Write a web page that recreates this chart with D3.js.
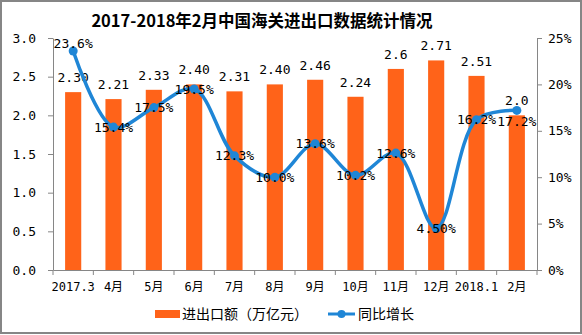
<!DOCTYPE html>
<html>
<head>
<meta charset="utf-8">
<script src="https://cdn.jsdelivr.net/npm/d3@7"></script>
<style>
  html, body { margin: 0; padding: 0; background: #fff; }
  svg text { font-family: "DejaVu Sans Mono", "Noto Sans CJK SC", monospace; fill: #000; }
  .title { font-family: "Noto Sans CJK SC", "DejaVu Sans", sans-serif; font-weight: bold; font-size: 16.5px; }
  .tick text { font-size: 13px; }
  .xaxis .tick text { font-size: 12px; }
  .legend-text { font-family: "Noto Sans CJK SC", sans-serif; font-size: 14px; }
  .val-label { font-size: 13px; }
</style>
</head>
<body>
<div id="chart"></div>
<script>
/* ============================================================
   Chart: 2017-2018 customs import/export
   ============================================================ */

const categories = ['2017.3', '4月', '5月', '6月', '7月', '8月', '9月', '10月', '11月', '12月', '2018.1', '2月'];
const tradeValues = [2.30, 2.21, 2.33, 2.40, 2.31, 2.40, 2.46, 2.24, 2.6, 2.71, 2.51, 2.0];
const tradeLabels = ['2.30', '2.21', '2.33', '2.40', '2.31', '2.40', '2.46', '2.24', '2.6', '2.71', '2.51', '2.0'];
const growthValues = [23.6, 15.4, 17.5, 19.5, 12.3, 10.0, 13.6, 10.2, 12.6, 4.50, 16.2, 17.2];
const growthLabels = ['23.6%', '15.4%', '17.5%', '19.5%', '12.3%', '10.0%', '13.6%', '10.2%', '12.6%', '4.50%', '16.2%', '17.2%'];
const leftTicks = [0, 0.5, 1.0, 1.5, 2.0, 2.5, 3.0];
const rightTicks = [0, 5, 10, 15, 20, 25];

const COLORS = { bar: '#FF6319', line: '#1F86D6', axis: '#868686' };

const W = 582, H = 335;
const plot = { left: 53, right: 537, top: 38, bottom: 270 };

const svg = d3.select('#chart').append('svg').attr('width', W).attr('height', H);

// frame
svg.append('rect').attr('x', 1).attr('y', 1).attr('width', W - 2).attr('height', H - 3)
    .attr('fill', '#fff').attr('stroke', COLORS.axis).attr('stroke-width', 2);

svg.append('text').attr('class', 'title').attr('x', 262).attr('y', 27)
    .attr('text-anchor', 'middle').text('2017-2018年2月中国海关进出口数据统计情况');

const x = d3.scaleBand().domain(categories).range([plot.left, plot.right]).padding(0);
const yL = d3.scaleLinear().domain([0, 3]).range([plot.bottom, plot.top]);
const yR = d3.scaleLinear().domain([0, 25]).range([plot.bottom, plot.top]);
const bw = x.bandwidth() * 0.4;
const cx = c => x(c) + x.bandwidth() / 2;

// Bars
svg.append('g').selectAll('rect').data(categories).join('rect')
    .attr('x', c => cx(c) - bw / 2)
    .attr('y', (c, i) => yL(tradeValues[i]))
    .attr('width', bw)
    .attr('height', (c, i) => plot.bottom - yL(tradeValues[i]))
    .attr('fill', COLORS.bar);

// Axes
function styleAxis(g) {
    g.select('.domain').attr('stroke', COLORS.axis);
    g.selectAll('.tick line').attr('stroke', COLORS.axis);
}

svg.append('g').attr('transform', `translate(${plot.left},0)`)
    .call(d3.axisLeft(yL).tickValues(leftTicks).tickFormat(d3.format('.1f')).tickSize(5).tickSizeOuter(0).tickPadding(12))
    .call(styleAxis);

svg.append('g').attr('transform', `translate(${plot.right},0)`)
    .call(d3.axisRight(yR).tickValues(rightTicks).tickFormat(d => d + '%').tickSize(5).tickSizeOuter(0).tickPadding(6))
    .call(styleAxis);

const xAxis = svg.append('g').attr('class', 'xaxis').attr('transform', `translate(0,${plot.bottom})`)
    .call(d3.axisBottom(x).tickSize(0).tickPadding(12))
    .call(styleAxis);

// boundary ticks
const bounds = categories.map(c => x(c)).concat([plot.right]);
xAxis.selectAll('.bound').data(bounds).join('line').attr('class', 'bound')
    .attr('x1', d => d).attr('x2', d => d).attr('y1', 0).attr('y2', 5)
    .attr('stroke', COLORS.axis);

// Bar labels
svg.append('g').selectAll('text').data(categories).join('text')
    .attr('class', 'val-label')
    .attr('x', cx)
    .attr('y', (c, i) => yL(tradeValues[i]) - 10)
    .attr('text-anchor', 'middle')
    .text((c, i) => tradeLabels[i]);

// Growth line
const pts = categories.map((c, i) => [cx(c), yR(growthValues[i])]);
svg.append('path').attr('d', d3.line().curve(d3.curveCatmullRom.alpha(0.5))(pts))
    .attr('fill', 'none').attr('stroke', COLORS.line).attr('stroke-width', 3.5)
    .attr('stroke-linejoin', 'round');

svg.append('g').selectAll('circle').data(pts).join('circle')
    .attr('cx', d => d[0]).attr('cy', d => d[1]).attr('r', 4.5)
    .attr('fill', COLORS.line);

// Growth labels: centred on the point, first and last nudged
const labelShift = { 0: -8, 11: 11 };
svg.append('g').selectAll('text').data(pts).join('text')
    .attr('class', 'val-label')
    .attr('x', d => d[0])
    .attr('y', (d, i) => d[1] + (labelShift[i] || 0))
    .attr('dy', '0.35em')
    .attr('text-anchor', 'middle')
    .text((d, i) => growthLabels[i]);

// Legend
const legend = svg.append('g');
legend.append('rect').attr('x', 155).attr('y', 310).attr('width', 25).attr('height', 8).attr('fill', COLORS.bar);
legend.append('text').attr('class', 'legend-text').attr('x', 182).attr('y', 314).attr('dy', '0.35em').text('进出口额（万亿元）');
legend.append('line').attr('x1', 328).attr('x2', 355).attr('y1', 314).attr('y2', 314)
    .attr('stroke', COLORS.line).attr('stroke-width', 3);
legend.append('circle').attr('cx', 341.5).attr('cy', 314).attr('r', 4).attr('fill', COLORS.line);
legend.append('text').attr('class', 'legend-text').attr('x', 358).attr('y', 314).attr('dy', '0.35em').text('同比增长');
</script>
</body>
</html>
